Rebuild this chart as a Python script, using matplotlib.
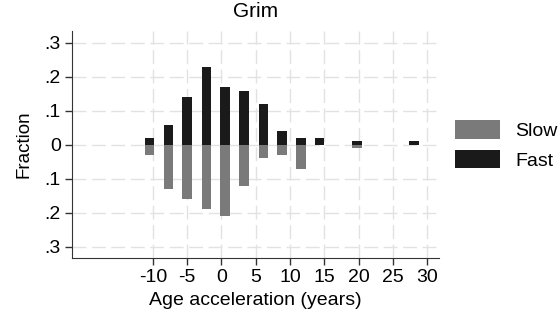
import matplotlib.pyplot as plt
import numpy as np

plt.rcParams['font.family'] = ['Liberation Sans', 'DejaVu Sans']
plt.rcParams['axes.unicode_minus'] = False

# bin centres (years) and fractions per group
bin_centres = [-10.5, -7.7, -5.0, -2.2, 0.55, 3.3, 6.1, 8.8, 11.6, 14.3, 17.1, 19.8, 22.6, 25.4, 28.1]
fast = [0.02, 0.06, 0.14, 0.23, 0.17, 0.16, 0.12, 0.04, 0.02, 0.02, 0.0, 0.01, 0.0, 0.0, 0.01]
slow = [0.03, 0.13, 0.16, 0.19, 0.21, 0.12, 0.04, 0.03, 0.07, 0.0, 0.0, 0.01, 0.0, 0.0, 0.0]

xticks = [-10, -5, 0, 5, 10, 15, 20, 25, 30]
yticks = [-0.3, -0.2, -0.1, 0, 0.1, 0.2, 0.3]
ytick_labels = ['.3', '.2', '.1', '0', '.1', '.2', '.3']

slow_color = '#7a7a7a'
fast_color = '#1a1a1a'

fig = plt.figure(figsize=(5.6, 3.17), dpi=100)
ax = fig.add_axes([0.1286, 0.186, 0.655, 0.716])

x = np.array(bin_centres)
ax.bar(x, -np.array(slow), width=1.4, color=slow_color, label='Slow', zorder=3)
ax.bar(x, fast, width=1.4, color=fast_color, label='Fast', zorder=3)

ax.set_xlim(-21.8, 31.7)
ax.set_ylim(-0.333, 0.335)
ax.set_xticks(xticks)
ax.set_yticks(yticks)
ax.set_yticklabels(ytick_labels)
ax.tick_params(labelsize=14, length=5, width=1, color='#333333', pad=3)

ax.grid(True, color='#e2e2e2', linestyle=(0, (10, 4)), linewidth=1, zorder=0)
for s in ['top', 'right']:
    ax.spines[s].set_visible(False)
for s in ['left', 'bottom']:
    ax.spines[s].set_color('#333333')

ax.set_title('Grim', fontsize=15, pad=10)
ax.set_xlabel('Age acceleration (years)', fontsize=14, labelpad=4)
ax.set_ylabel('Fraction', fontsize=13.5, labelpad=9)

ax.legend(loc='center left', bbox_to_anchor=(0.8125, 0.5426),
          bbox_transform=fig.transFigure, frameon=False, borderpad=0,
          borderaxespad=0, fontsize=14, handlelength=2.3, handleheight=1.05,
          labelspacing=0.5, handletextpad=0.8)

fig.savefig('out.png', dpi=100)
